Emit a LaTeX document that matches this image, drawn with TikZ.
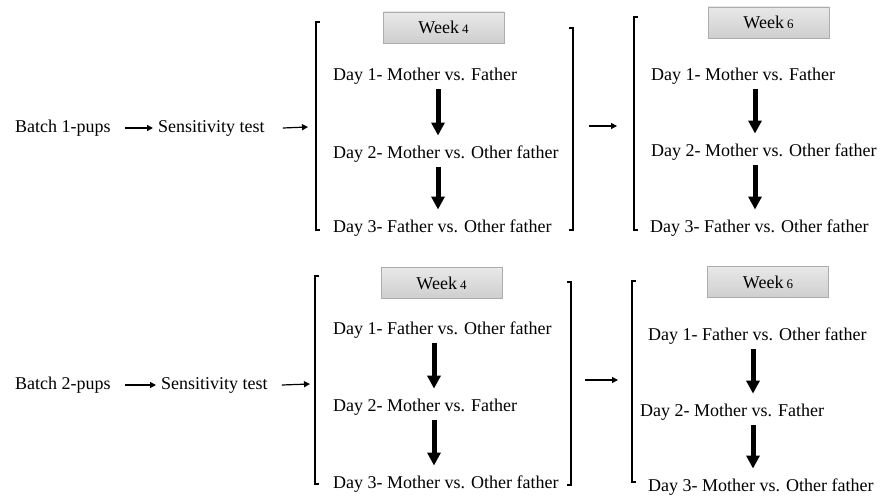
\documentclass[tikz,border=0pt]{standalone}
\usepackage{fontspec}
\setmainfont{Liberation Serif}
\usetikzlibrary{arrows.meta}
\begin{document}
\begin{tikzpicture}[x=1pt,y=-1pt,
  lbl/.style={anchor=west, inner sep=0pt, font=\fontsize{18}{21}\selectfont},
  wk/.style={draw=gray!65, top color=gray!18, bottom color=gray!38, minimum width=121pt, minimum height=31pt, inner sep=0pt, font=\fontsize{18}{21}\selectfont},
  brk/.style={line width=1.4pt},
  sarr/.style={-{Triangle[length=6pt,width=6pt]}, line width=1.2pt},
  barr/.style={-{Triangle[length=13pt,width=13pt]}, line width=5pt}]
\useasboundingbox (0,0) rectangle (880,497);
\newcommand{\wknum}[1]{Week\,{\fontsize{13}{15}\selectfont #1}}
% ---------- top row ----------
\node[lbl] (b1) at (15,128) {Batch 1-pups};
\node[lbl] (s1) at (158,128) {Sensitivity test};
\coordinate (a1) at (308,127);
\draw[sarr] ([xshift=14]b1.east) -- ([xshift=-5]s1.west);
\draw[sarr] ([xshift=18]s1.east) -- (a1);
\draw[brk] (320,22) -- (316,22) -- (316,230) -- (320,230);
\draw[brk] (569,28) -- (573,28) -- (573,230) -- (569,230);
\node[wk] (w14) at (443.5,27.5) {\wknum{4}};
\node[lbl] (t11) at (333,76) {Day 1- Mother vs. Father};
\node[lbl] (t12) at (333,154) {Day 2- Mother vs. Other father};
\node[lbl] (t13) at (333,228) {Day 3- Father vs. Other father};
\coordinate (m1a) at (589,126);
\coordinate (m1b) at (617,126);
\draw[sarr] (m1a) -- (m1b);
\draw[brk] (638,17) -- (634,17) -- (634,230) -- (638,230);
\node[wk] (w16) at (768.5,22.5) {\wknum{6}};
\node[lbl] (u11) at (651,76) {Day 1- Mother vs. Father};
\node[lbl] (u12) at (651,152) {Day 2- Mother vs. Other father};
\node[lbl] (u13) at (650,228) {Day 3- Father vs. Other father};
\draw[barr] ([yshift=-5pt]t11.south -| 438,0) -- ([yshift=10pt]t12.north -| 438,0);
\draw[barr] ([yshift=-5pt]t12.south -| 438,0) -- ([yshift=10pt]t13.north -| 438,0);
\draw[barr] ([yshift=-5pt]u11.south -| 755,0) -- ([yshift=10pt]u12.north -| 755,0);
\draw[barr] ([yshift=-5pt]u12.south -| 755,0) -- ([yshift=10pt]u13.north -| 755,0);
% ---------- bottom row ----------
\node[lbl] (b2) at (15,385) {Batch 2-pups};
\node[lbl] (s2) at (161,385) {Sensitivity test};
\coordinate (a2) at (310,384);
\draw[sarr] ([xshift=14]b2.east) -- ([xshift=-5]s2.west);
\draw[sarr] ([xshift=14]s2.east) -- (a2);
\draw[brk] (319,276) -- (315,276) -- (315,484) -- (319,484);
\draw[brk] (567,282) -- (571,282) -- (571,485) -- (567,485);
\node[wk] (w24) at (441.5,283) {\wknum{4}};
\node[lbl] (t21) at (333,330) {Day 1- Father vs. Other father};
\node[lbl] (t22) at (333,407) {Day 2- Mother vs. Father};
\node[lbl] (t23) at (333,484) {Day 3- Mother vs. Other father};
\coordinate (m2a) at (585,380);
\coordinate (m2b) at (618,380);
\draw[sarr] (m2a) -- (m2b);
\draw[brk] (636,281) -- (632,281) -- (632,482) -- (636,482);
\node[wk] (w26) at (768,282) {\wknum{6}};
\node[lbl] (u21) at (648,336) {Day 1- Father vs. Other father};
\node[lbl] (u22) at (640,412) {Day 2- Mother vs. Father};
\node[lbl] (u23) at (648,487) {Day 3- Mother vs. Other father};
\draw[barr] ([yshift=-5pt]t21.south -| 434,0) -- ([yshift=10pt]t22.north -| 434,0);
\draw[barr] ([yshift=-5pt]t22.south -| 434,0) -- ([yshift=10pt]t23.north -| 434,0);
\draw[barr] ([yshift=-5pt]u21.south -| 753,0) -- ([yshift=10pt]u22.north -| 753,0);
\draw[barr] ([yshift=-5pt]u22.south -| 753,0) -- ([yshift=10pt]u23.north -| 753,0);
\end{tikzpicture}
\end{document}
